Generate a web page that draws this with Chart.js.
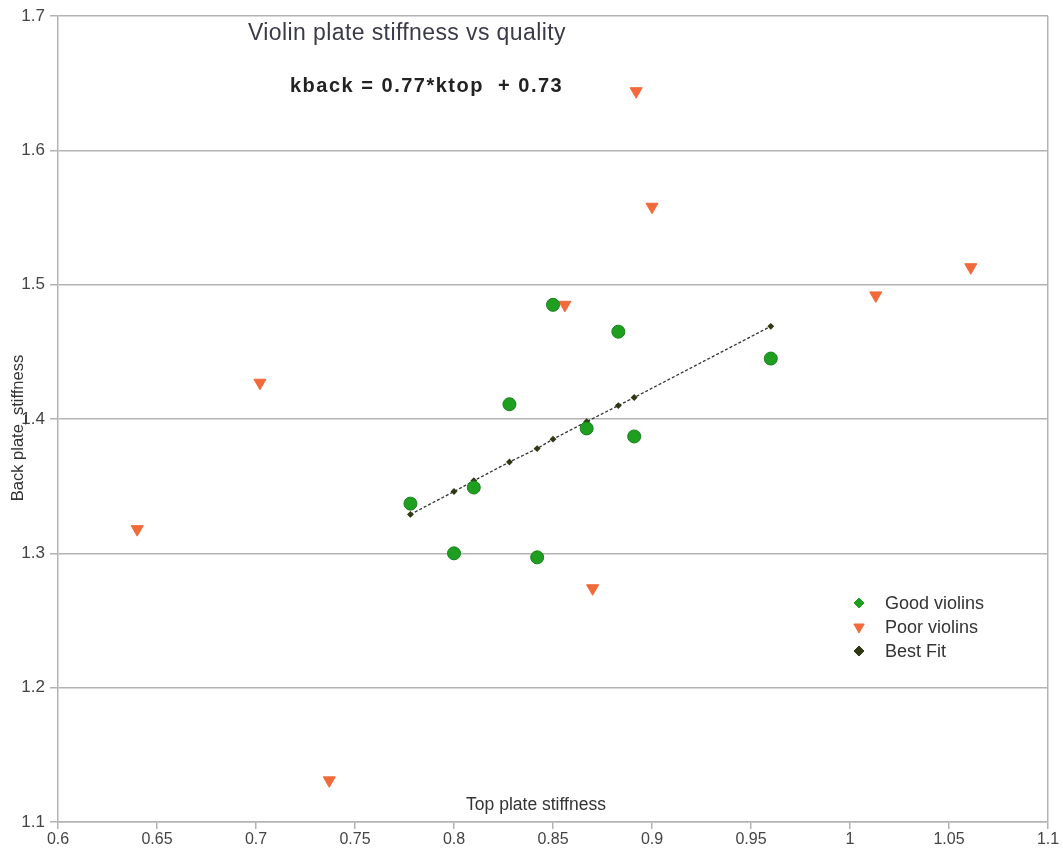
<!DOCTYPE html>
<html>
<head>
<meta charset="utf-8">
<script src="https://cdn.jsdelivr.net/npm/chart.js@4/dist/chart.umd.min.js"></script>
<style>
  html, body { margin: 0; padding: 0; background: #fff; }
  #wrap { position: relative; width: 1063px; height: 858px; }
</style>
</head>
<body>
<div id="wrap"><canvas id="c" width="1063" height="858"></canvas></div>
<script>
// ---- data ----
const goodTop  = [0.778, 0.800, 0.810, 0.828, 0.842, 0.850, 0.867, 0.883, 0.891, 0.960];
const goodBack = [1.337, 1.300, 1.349, 1.411, 1.297, 1.485, 1.393, 1.465, 1.387, 1.445];

const poorTop  = [0.892, 0.900, 1.061, 1.013, 0.856, 0.702, 0.640, 0.870, 0.737];
const poorBack = [1.644, 1.558, 1.513, 1.492, 1.485, 1.427, 1.318, 1.274, 1.131];

const fitTop   = [0.778, 0.800, 0.810, 0.828, 0.842, 0.850, 0.867, 0.883, 0.891, 0.960];
const fitBack  = [1.329, 1.346, 1.354, 1.368, 1.378, 1.385, 1.398, 1.410, 1.416, 1.469];

const seriesNames = ['Good violins', 'Poor violins', 'Best Fit'];
const titleText = 'Violin plate stiffness vs quality';
const equationText = 'kback = 0.77*ktop  + 0.73';
const xTitle = 'Top plate stiffness';
const yTitle = 'Back plate_stiffness';

const toPts = (xs, ys) => xs.map((x, i) => ({ x: x, y: ys[i] }));

const GREEN = '#1f9f1f', GREEN_EDGE = '#15801a';
const ORANGE = '#f26a3a';
const FIT = '#2f3a14';
const GRID = '#b3b3b3';
const FONT = '"Liberation Sans", Arial, sans-serif';

const annotPlugin = {
  id: 'annot',
  afterDraw(chart) {
    const ctx = chart.ctx;
    ctx.save();
    ctx.textAlign = 'left';
    ctx.textBaseline = 'middle';
    // title
    ctx.fillStyle = '#3a3a48';
    ctx.font = '23px ' + FONT;
    ctx.letterSpacing = '0.4px';
    ctx.fillText(titleText, 248, 34);
    // equation
    ctx.fillStyle = '#222';
    ctx.font = 'bold 20px ' + FONT;
    ctx.letterSpacing = '1.5px';
    ctx.fillText(equationText, 290, 86);
    ctx.letterSpacing = '0px';
    // x axis title
    ctx.fillStyle = '#333';
    ctx.font = '17.5px ' + FONT;
    ctx.textAlign = 'center';
    ctx.fillText(xTitle, 536, 805);
    // y axis title
    ctx.save();
    ctx.translate(18, 428);
    ctx.rotate(-Math.PI / 2);
    ctx.font = '16.5px ' + FONT;
    ctx.fillText(yTitle, 0, 0);
    ctx.restore();
    // legend
    const rows = [
      { style: 'rectRot', fill: GREEN, stroke: GREEN, r: 5, rot: 0 },
      { style: 'triangle', fill: ORANGE, stroke: ORANGE, r: 6, rot: 180 },
      { style: 'rectRot', fill: FIT, stroke: FIT, r: 5, rot: 0 }
    ];
    ctx.font = '18px ' + FONT;
    ctx.textAlign = 'left';
    rows.forEach((r, i) => {
      const y = 603 + i * 24;
      ctx.fillStyle = r.fill;
      ctx.strokeStyle = r.stroke;
      ctx.lineWidth = 1;
      Chart.helpers.drawPoint(ctx, { pointStyle: r.style, radius: r.r, rotation: r.rot, borderWidth: 1 }, 859, y);
      ctx.fillStyle = '#333';
      ctx.fillText(seriesNames[i], 885, y + 1);
    });
    ctx.restore();
  }
};

new Chart(document.getElementById('c'), {
  type: 'scatter',
  data: {
    datasets: [
      {
        label: seriesNames[2],
        data: toPts(fitTop, fitBack),
        showLine: true,
        borderColor: '#333',
        borderWidth: 1.3,
        borderDash: [3, 2],
        pointStyle: 'rectRot',
        pointRadius: 2.5,
        pointBackgroundColor: FIT,
        pointBorderColor: FIT,
        order: 3
      },
      {
        label: seriesNames[0],
        data: toPts(goodTop, goodBack),
        pointStyle: 'circle',
        pointRadius: 6.5,
        pointBackgroundColor: GREEN,
        pointBorderColor: GREEN_EDGE,
        pointBorderWidth: 1,
        order: 1
      },
      {
        label: seriesNames[1],
        data: toPts(poorTop, poorBack),
        pointStyle: 'triangle',
        pointRotation: 180,
        pointRadius: 7,
        pointBackgroundColor: ORANGE,
        pointBorderColor: ORANGE,
        pointBorderWidth: 1,
        order: 2
      }
    ]
  },
  options: {
    responsive: false,
    animation: false,
    layout: { padding: { top: 16, right: 15, left: 0, bottom: 0 } },
    plugins: { legend: { display: false }, tooltip: { enabled: false }, title: { display: false } },
    scales: {
      x: {
        type: 'linear',
        min: 0.6, max: 1.1,
        afterFit(s) { s.height = 36; },
        ticks: {
          stepSize: 0.05,
          color: '#444',
          font: { family: FONT, size: 16 },
          padding: 1,
          maxRotation: 0,
          callback: v => String(Number(v.toFixed(2)))
        },
        grid: {
          color: c => (c.tick && c.tick.value > 1.09) ? GRID : 'rgba(0,0,0,0)',
          tickColor: GRID,
          tickLength: 7,
          lineWidth: 1.5
        },
        border: { color: GRID, width: 1.5 }
      },
      y: {
        type: 'linear',
        min: 1.1, max: 1.7,
        afterFit(s) { s.width = 58; },
        ticks: {
          stepSize: 0.1,
          color: '#444',
          font: { family: FONT, size: 17 },
          padding: 5,
          callback: v => v.toFixed(1)
        },
        grid: { color: GRID, tickColor: GRID, tickLength: 8, lineWidth: 1.5 },
        border: { color: GRID, width: 1.5 }
      }
    }
  },
  plugins: [annotPlugin]
});
</script>
</body>
</html>
